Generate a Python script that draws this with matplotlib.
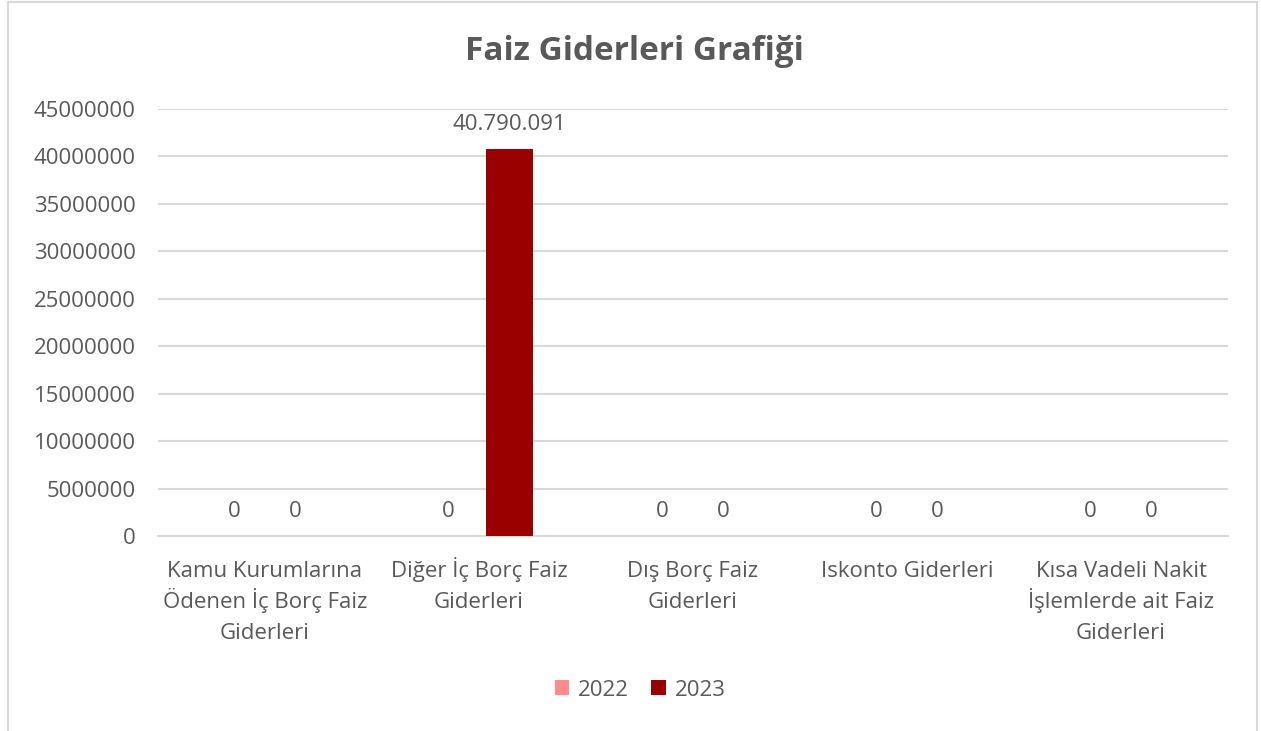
import matplotlib.pyplot as plt
import numpy as np
from matplotlib.patches import Rectangle

# chart data
categories = [
    "Kamu Kurumlarına\nÖdenen İç Borç Faiz\nGiderleri",
    "Diğer İç Borç Faiz\nGiderleri",
    "Dış Borç Faiz\nGiderleri",
    "Iskonto Giderleri",
    "Kısa Vadeli Nakit\nİşlemlerde ait Faiz\nGiderleri",
]
series_names = ["2022", "2023"]
values_2022 = [0, 0, 0, 0, 0]
values_2023 = [0, 40790091, 0, 0, 0]
yticks = [0, 5000000, 10000000, 15000000, 20000000, 25000000,
          30000000, 35000000, 40000000, 45000000]

colors = ["#FF8B8B", "#990000"]
text_color = "#595959"
grid_color = "#D9D9D9"

plt.rcParams['font.family'] = ['Open Sans', 'DejaVu Sans']

W, H = 1261, 731
fig = plt.figure(figsize=(W / 100, H / 100), dpi=100)

# outer chart frame
fig.patches.append(Rectangle((8 / W, -0.02), (1257 - 8) / W, 1.02 - 2 / H,
                             transform=fig.transFigure, fill=False,
                             edgecolor=grid_color, linewidth=1.5))

ax = fig.add_axes([158 / W, 1 - 536 / H, (1228 - 158) / W, (536 - 109) / H])

x = np.arange(len(categories))
width = 0.215
offset = 0.1425


def fmt(v):
    return f"{v:,}".replace(",", ".")


for vals, name, col, sign in [(values_2022, series_names[0], colors[0], -1),
                              (values_2023, series_names[1], colors[1], 1)]:
    bars = ax.bar(x + sign * offset, vals, width, color=col, label=name, zorder=3)
    for b, v in zip(bars, vals):
        ax.annotate(fmt(v), (b.get_x() + b.get_width() / 2, v),
                    xytext=(0, 17.5), textcoords="offset points",
                    ha="center", va="center", fontsize=16, color=text_color)

ax.set_xlim(-0.5, len(categories) - 0.5)
ax.set_ylim(0, 45000000)
ax.set_yticks(yticks)
ax.set_yticklabels([str(t) for t in yticks])
ax.set_xticks(x)
ax.set_xticklabels([])
ax.tick_params(axis="both", length=0, labelsize=16, labelcolor=text_color)
ax.tick_params(axis="y", pad=16)

# category labels, one line at a time so the line spacing stays even
for i, cat in enumerate(categories):
    for k, line in enumerate(cat.split("\n")):
        ax.annotate(line, (i, 0), xycoords=("data", "axes fraction"),
                    xytext=(0, -29.5 - 22.3 * k), textcoords="offset points",
                    ha="center", va="baseline", fontsize=16, color=text_color)

ax.yaxis.grid(True, color=grid_color, linewidth=1.5, zorder=0)
for s in ["top", "right", "left"]:
    ax.spines[s].set_visible(False)
ax.spines["bottom"].set_color(grid_color)
ax.spines["bottom"].set_linewidth(1.5)

fig.text(634 / W, 1 - 52 / H, "Faiz Giderleri Grafiği", ha="center", va="center",
         fontsize=24, fontweight="bold", color=text_color)

fig.legend(loc="center", bbox_to_anchor=(640 / W, 1 - 690 / H), ncol=2,
           frameon=False, fontsize=16, labelcolor=text_color,
           handlelength=0.65, handleheight=0.65, handletextpad=0.4,
           columnspacing=1.0)

fig.savefig("out.png", dpi=100)
